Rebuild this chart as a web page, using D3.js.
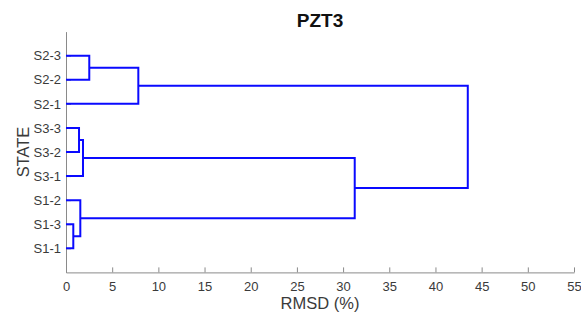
<!DOCTYPE html>
<html>
<head>
<meta charset="utf-8">
<script src="https://cdn.jsdelivr.net/npm/d3@7"></script>
<style>
  html, body { margin: 0; padding: 0; background: #fff; }
  svg text { font-family: "Liberation Sans", Arial, sans-serif; }
</style>
</head>
<body>
<svg id="chart" width="581" height="320"></svg>
<script>
// Leaf labels in bottom-to-top order (dendrogram leaf positions 1..9)
const leafLabels = ["S1-1", "S1-3", "S1-2", "S3-1", "S3-2", "S3-3", "S2-1", "S2-2", "S2-3"];
// Linkage rows: ids 0..8 are leaves, cluster k (k = 0..7) gets id 9 + k
const linkA      = [1, 2, 5, 11, 8, 13, 12, 15];
const linkB      = [0, 9, 4, 3, 7, 6, 10, 14];
const linkHeight = [0.79, 1.55, 1.41, 1.84, 2.52, 7.83, 31.26, 43.5];
const xTicks = [0, 5, 10, 15, 20, 25, 30, 35, 40, 45, 50, 55];

const svg = d3.select("#chart");
const plotLeft = 66, plotRight = 574, plotTop = 31.6, plotBottom = 272.4;

const x = d3.scaleLinear().domain([0, 55]).range([plotLeft, plotRight]);
const y = d3.scaleLinear().domain([0, 10]).range([plotBottom, plotTop]);

// node positions: leaves at 1..n, clusters at mean of their children
const nodeY = leafLabels.map((d, i) => i + 1);
const nodeH = leafLabels.map(() => 0);
linkA.forEach((a, k) => {
  const b = linkB[k];
  nodeY.push((nodeY[a] + nodeY[b]) / 2);
  nodeH.push(linkHeight[k]);
});

// axes
const axisColor = "#8a8a8a";
const textColor = "#3a3a3a";

const xAxis = svg.append("g")
  .attr("transform", `translate(0,${plotBottom})`)
  .call(d3.axisBottom(x).tickValues(xTicks).tickSizeInner(-5).tickSizeOuter(0).tickPadding(9));
xAxis.select(".domain").attr("stroke", axisColor);
xAxis.selectAll(".tick line").attr("stroke", axisColor);
xAxis.selectAll("text").attr("fill", textColor).attr("font-size", 13);

const yAxis = svg.append("g")
  .attr("transform", `translate(${plotLeft},0)`)
  .call(d3.axisLeft(y).tickValues(d3.range(1, 10)).tickFormat(d => leafLabels[d - 1])
    .tickSizeInner(-5).tickSizeOuter(0).tickPadding(5));
yAxis.select(".domain").attr("stroke", axisColor);
yAxis.selectAll(".tick line").attr("stroke", axisColor);
yAxis.selectAll("text").attr("fill", textColor).attr("font-size", 13);

// dendrogram links (U shapes)
const g = svg.append("g");
linkA.forEach((a, k) => {
  const b = linkB[k];
  const h = linkHeight[k];
  const path = d3.path();
  path.moveTo(x(nodeH[a]), y(nodeY[a]));
  path.lineTo(x(h), y(nodeY[a]));
  path.lineTo(x(h), y(nodeY[b]));
  path.lineTo(x(nodeH[b]), y(nodeY[b]));
  g.append("path")
    .attr("d", path.toString())
    .attr("fill", "none")
    .attr("stroke", "#0a0aff")
    .attr("stroke-width", 2);
});

// title and axis labels
svg.append("text")
  .attr("x", (plotLeft + plotRight) / 2).attr("y", 26.5)
  .attr("text-anchor", "middle")
  .attr("font-size", 19).attr("font-weight", "bold").attr("fill", "#111")
  .text("PZT3");

svg.append("text")
  .attr("x", (plotLeft + plotRight) / 2).attr("y", 308.5)
  .attr("text-anchor", "middle")
  .attr("font-size", 16.5).attr("fill", textColor)
  .text("RMSD (%)");

svg.append("text")
  .attr("transform", `translate(28.5,${(plotTop + plotBottom) / 2}) rotate(-90)`)
  .attr("text-anchor", "middle")
  .attr("font-size", 16.5).attr("fill", textColor)
  .text("STATE");
</script>
</body>
</html>
